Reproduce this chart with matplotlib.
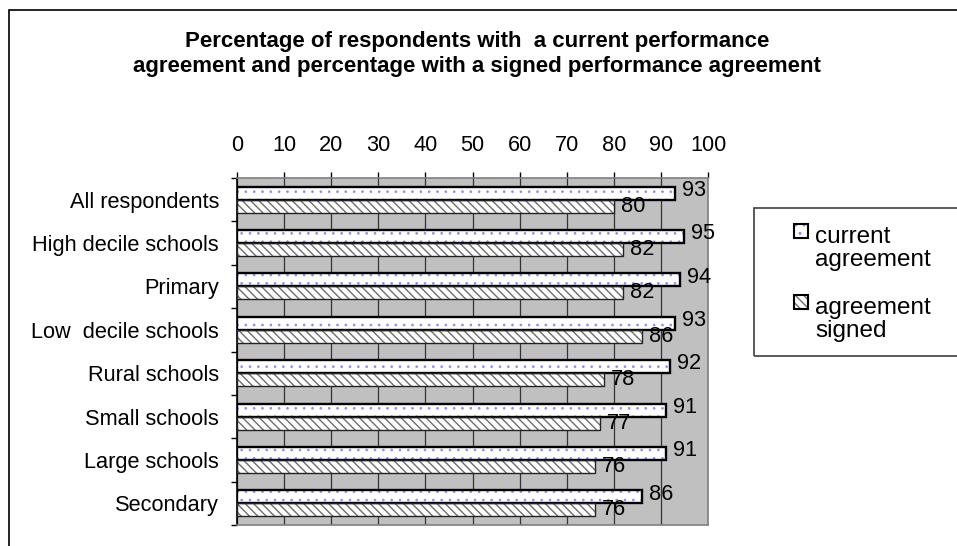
import matplotlib
matplotlib.use("Agg")
import matplotlib.pyplot as plt
from matplotlib.patches import Rectangle
import numpy as np

plt.rcParams['font.family'] = ['Liberation Sans', 'DejaVu Sans']
plt.rcParams['hatch.linewidth'] = 1.0

categories = ["All respondents", "High decile schools", "Primary", "Low  decile schools",
              "Rural schools", "Small schools", "Large schools", "Secondary"]
current = [93, 95, 94, 93, 92, 91, 91, 86]
signed = [80, 82, 82, 86, 78, 77, 76, 76]
series_names = ["current\nagreement", "agreement\nsigned"]
xticks = list(range(0, 101, 10))
title = ("Percentage of respondents with  a current performance\n"
         "agreement and percentage with a signed performance agreement")

W, H = 957, 546
FS = 15.7
fig = plt.figure(figsize=(W / 100, H / 100), dpi=100)
ax = fig.add_axes([237 / W, 1 - 525 / H, (708 - 237) / W, (525 - 178) / H])
ax.set_facecolor('#c0c0c0')

DOT = '#8c8cff'
STRIPE = '#6e6e6e'
n = len(categories)
y = np.arange(n)
bh = 0.3
# current agreement: white with light blue dots, black outline
with plt.rc_context({'hatch.linewidth': 0.7}):
    b1 = ax.barh(y - bh / 2, current, height=bh, color='white', edgecolor=DOT,
                 hatch='..', linewidth=0, zorder=3)
for p in b1:
    try:
        p.set_hatch_linewidth(0.7)
    except AttributeError:
        pass
ax.barh(y - bh / 2, current, height=bh, fill=False, edgecolor='black',
        linewidth=1.7, zorder=4)
# agreement signed: grey diagonal hatch
ax.barh(y + bh / 2, signed, height=bh, color='white', edgecolor=STRIPE,
        hatch='\\\\\\\\', linewidth=0, zorder=3)
ax.barh(y + bh / 2, signed, height=bh, fill=False, edgecolor='#222222',
        linewidth=1.0, zorder=4)

for yi, v in zip(y, current):
    ax.annotate(str(v), xy=(v, yi - bh / 2), xytext=(5, 2), textcoords='offset points',
                ha='left', va='center', fontsize=FS, zorder=5)
for yi, v in zip(y, signed):
    ax.annotate(str(v), xy=(v, yi + bh / 2), xytext=(5, 0), textcoords='offset points',
                ha='left', va='center', fontsize=FS, zorder=5)

ax.set_xlim(0, 100)
ax.set_ylim(n - 0.5, -0.5)
ax.xaxis.tick_top()
ax.set_xticks(xticks)
ax.set_xticklabels([str(t) for t in xticks])
ax.tick_params(axis='x', direction='out', length=4.5, width=1, labelsize=FS, pad=11)
ax.set_yticks(np.arange(-0.5, n, 1))
ax.set_yticklabels([])
ax.set_yticks(y, minor=True)
ax.set_yticklabels(categories, minor=True)
ax.tick_params(axis='y', which='major', direction='out', length=4.5, width=1)
ax.tick_params(axis='y', which='minor', length=0, labelsize=FS, pad=13)
ax.xaxis.grid(True, color='#333333', linewidth=0.9)
ax.set_axisbelow(True)
for side in ['top', 'right', 'bottom']:
    ax.spines[side].set_color('#808080')
    ax.spines[side].set_linewidth(1.2)
ax.spines['left'].set_color('black')
ax.spines['left'].set_linewidth(1.2)

fig.text(477 / W, 1 - 54 / H, title, ha='center', va='center', fontsize=16,
         fontweight='bold', linespacing=1.2)

# outer chart border
fig.add_artist(Rectangle((9 / W, -0.2), 1.2, 1.2 - 10 / H, transform=fig.transFigure,
                         fill=False, edgecolor='black', linewidth=1.2))
# legend (frame, swatches, labels)
fig.add_artist(Rectangle((754 / W, 1 - 356 / H), 0.5, (356 - 208) / H,
                         transform=fig.transFigure, fill=False, edgecolor='#404040',
                         linewidth=1.2))
legend_styles = [dict(hatch='..', edge=DOT), dict(hatch='\\\\\\\\', edge=STRIPE)]
legend_tops = [224, 295]
for name, st, top in zip(series_names, legend_styles, legend_tops):
    sw = Rectangle((794 / W, 1 - (top + 14) / H), 14 / W, 14 / H,
                   transform=fig.transFigure, facecolor='white',
                   edgecolor=st['edge'], hatch=st['hatch'], linewidth=0)
    fig.add_artist(sw)
    fig.add_artist(Rectangle((794 / W, 1 - (top + 14) / H), 14 / W, 14 / H,
                             transform=fig.transFigure, fill=False,
                             edgecolor='black', linewidth=1.5))
    # baseline of the last (second) line of the label
    fig.text(815 / W, 1 - (top + 42) / H, name, ha='left', va='baseline',
             fontsize=17.5, linespacing=1.05)

fig.savefig('out.png', dpi=100)
